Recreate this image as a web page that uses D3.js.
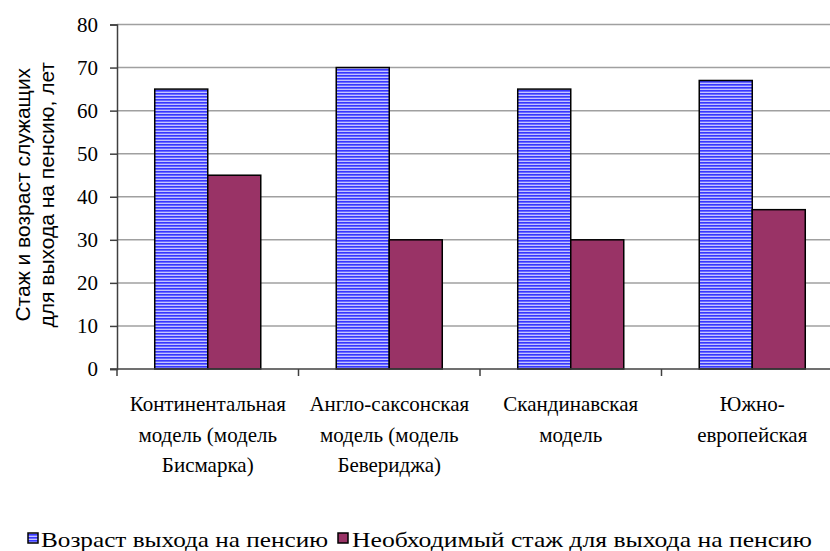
<!DOCTYPE html>
<html>
<head>
<meta charset="utf-8">
<script src="https://cdn.jsdelivr.net/npm/d3@7/dist/d3.min.js"></script>
<style>
  html, body { margin: 0; padding: 0; background: #fff; }
  svg { display: block; }
  .serif { font-family: "Liberation Serif", "Tinos", "Times New Roman", "Times", "Nimbus Roman", "FreeSerif", "Noto Serif", "DejaVu Serif", serif; }
  .sans { font-family: "Liberation Sans", Arial, sans-serif; }
</style>
</head>
<body>
<svg id="chart" width="830" height="551"></svg>
<script>
// Pension system models and their parameters
const categories = [
  ["Континентальная", "модель (модель", "Бисмарка)"],
  ["Англо-саксонская", "модель (модель", "Бевериджа)"],
  ["Скандинавская", "модель"],
  ["Южно-", "европейская"]
];
const seriesNames = ["Возраст выхода на пенсию", "Необходимый стаж для выхода на пенсию"];
const retirementAge = [65, 70, 65, 67];
const requiredService = [45, 30, 30, 37];
const yTicks = [0, 10, 20, 30, 40, 50, 60, 70, 80];
const yTitle = ["Стаж и возраст служащих", "для выхода на пенсию, лет"];

const seriesValues = [retirementAge, requiredService];

const svg = d3.select("#chart");

// Plot geometry (the plot runs past the right edge of the canvas)
const plotLeft = 117, plotRight = 843, plotTop = 24.5, plotBottom = 369;

const x = d3.scaleBand().domain(d3.range(categories.length)).range([plotLeft, plotRight]).padding(0);
const xs = d3.scaleBand().domain(d3.range(seriesNames.length))
  .range([0, x.bandwidth()]).paddingInner(0).paddingOuter(0.712);
const y = d3.scaleLinear().domain([0, 80]).range([plotBottom, plotTop]);

// Striped fill for the retirement-age series
const defs = svg.append("defs");
const pat = defs.append("pattern")
  .attr("id", "stripes").attr("patternUnits", "userSpaceOnUse")
  .attr("width", 6).attr("height", 3);
pat.append("rect").attr("width", 6).attr("height", 3).attr("fill", "#6a6aff");
pat.append("rect").attr("y", 0).attr("width", 6).attr("height", 1).attr("fill", "#3838ff");
pat.append("rect").attr("y", 2).attr("width", 6).attr("height", 1).attr("fill", "#c4c4ff");

const fills = ["url(#stripes)", "#993366"];

// Horizontal gridlines
svg.append("g").selectAll("line")
  .data(yTicks.filter(d => d > 0))
  .join("line")
  .attr("x1", plotLeft).attr("x2", plotRight)
  .attr("y1", d => y(d)).attr("y2", d => y(d))
  .attr("stroke", "#a0a0a0").attr("stroke-width", 1.5);

// Bars
const groups = svg.append("g").selectAll("g")
  .data(categories.map((c, i) => i))
  .join("g")
  .attr("transform", i => `translate(${x(i)},0)`);

groups.selectAll("rect")
  .data(i => seriesValues.map((s, k) => ({ k, v: s[i] })))
  .join("rect")
  .attr("x", d => xs(d.k))
  .attr("width", xs.bandwidth())
  .attr("y", d => y(d.v))
  .attr("height", d => y(0) - y(d.v))
  .attr("fill", d => fills[d.k])
  .attr("stroke", "#000").attr("stroke-width", 1.5);

// Y axis
const yAxis = d3.axisLeft(y).tickValues(yTicks).tickSize(7).tickPadding(12);
const gy = svg.append("g").attr("transform", `translate(${plotLeft},0)`).call(yAxis)
  .attr("font-family", null).attr("font-size", null).attr("class", "serif");
gy.select(".domain").attr("stroke", "#404040").attr("stroke-width", 1.5);
gy.selectAll(".tick line").attr("stroke", "#404040").attr("stroke-width", 1.5);
gy.selectAll(".tick text").style("font-size", "21px").attr("fill", "#000");

// X axis: baseline with ticks between categories
const gx = svg.append("g");
gx.append("line").attr("x1", plotLeft - 7).attr("x2", plotRight)
  .attr("y1", plotBottom).attr("y2", plotBottom)
  .attr("stroke", "#404040").attr("stroke-width", 1.5);
gx.selectAll("line.sep")
  .data(d3.range(categories.length + 1))
  .join("line").attr("class", "sep")
  .attr("x1", i => i < categories.length ? x(i) : plotRight)
  .attr("x2", i => i < categories.length ? x(i) : plotRight)
  .attr("y1", plotBottom).attr("y2", plotBottom + 7)
  .attr("stroke", "#404040").attr("stroke-width", 1.5);

// Category labels
svg.append("g").attr("class", "serif").selectAll("text")
  .data(categories.map((c, i) => ({ c, i })))
  .join("text")
  .attr("text-anchor", "middle")
  .style("font-size", "21px").attr("fill", "#000")
  .each(function(d) {
    d3.select(this).selectAll("tspan").data(d.c).join("tspan")
      .attr("x", x(d.i) + x.bandwidth() / 2)
      .attr("y", (t, j) => 411 + j * 30.5)
      .text(t => t);
  });

// Y axis title
svg.append("g").attr("class", "sans").selectAll("text")
  .data(yTitle)
  .join("text")
  .attr("transform", (t, j) => `translate(${30 + j * 24},${(plotTop + plotBottom) / 2 - 2}) rotate(-90)`)
  .attr("text-anchor", "middle")
  .style("font-size", "21px").attr("fill", "#000")
  .text(t => t);

// Legend
const legendItems = [
  { x: 28, tx: 41, len: 287 },
  { x: 338, tx: 352, len: 460 }
];
const lg = svg.append("g").attr("class", "serif");
legendItems.forEach((it, k) => {
  lg.append("rect").attr("x", it.x).attr("y", 533).attr("width", 10).attr("height", 10)
    .attr("fill", fills[k]).attr("stroke", "#000").attr("stroke-width", 1.5);
  lg.append("text").attr("x", it.tx).attr("y", 547)
    .style("font-size", "22px").attr("fill", "#000")
    .attr("textLength", it.len).attr("lengthAdjust", "spacingAndGlyphs")
    .text(seriesNames[k]);
});
</script>
</body>
</html>
